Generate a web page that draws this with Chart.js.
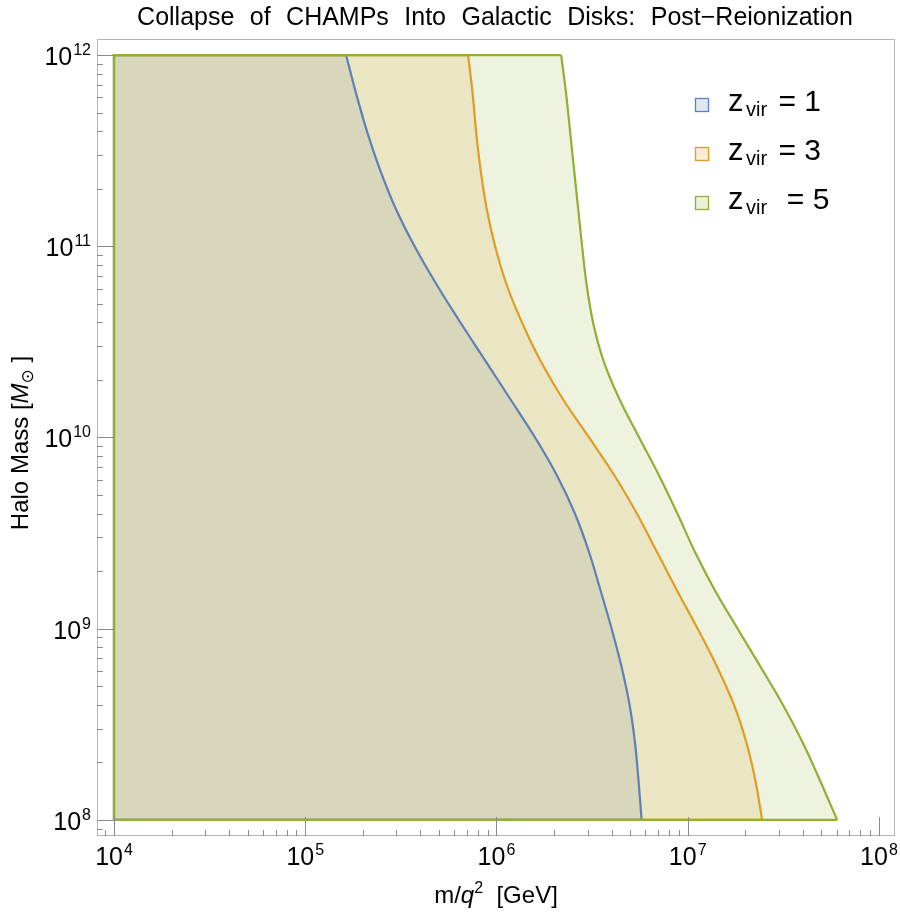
<!DOCTYPE html>
<html>
<head>
<meta charset="utf-8">
<script src="https://cdn.jsdelivr.net/npm/chart.js@4/dist/chart.umd.min.js"></script>
<style>
  html, body { margin: 0; padding: 0; background: #fff; }
  #wrap { width: 900px; height: 913px; position: relative; }
</style>
</head>
<body>
<div id="wrap"><canvas id="chart"></canvas></div>
<script>
// halo mass samples (Msun), top to bottom, shared by every boundary curve
const haloMass = [1e12, 6.31e11, 3.98e11, 2.51e11, 1.58e11, 1e11, 6.31e10, 3.98e10, 2.51e10, 1.58e10,
  1e10, 6.31e9, 3.98e9, 2.51e9, 1.58e9, 1e9, 6.31e8, 3.98e8, 2.51e8, 1.58e8, 1e8];

// m/q^2 (GeV) of the collapse boundary at each halo mass
const mqZ1 = [1.634e5, 1.844e5, 2.105e5, 2.462e5, 2.967e5, 3.730e5, 4.861e5, 6.490e5, 8.770e5, 1.185e6,
  1.592e6, 2.075e6, 2.577e6, 3.050e6, 3.504e6, 4.000e6, 4.511e6, 4.968e6, 5.307e6, 5.537e6, 5.740e6];
const mqZ3 = [7.105e5, 7.499e5, 7.822e5, 8.257e5, 8.875e5, 9.833e5, 1.129e6, 1.361e6, 1.701e6, 2.230e6,
  3.050e6, 4.147e6, 5.438e6, 6.918e6, 8.803e6, 1.127e7, 1.425e7, 1.748e7, 2.033e7, 2.266e7, 2.450e7];
const mqZ5 = [2.178e6, 2.312e6, 2.426e6, 2.546e6, 2.672e6, 2.804e6, 2.959e6, 3.201e6, 3.632e6, 4.404e6,
  5.570e6, 7.087e6, 8.854e6, 1.093e7, 1.391e7, 1.824e7, 2.406e7, 3.155e7, 4.015e7, 4.955e7, 6.044e7];
const mqMin = 1e4; // left edge of the shaded regions

const zvirValues = ["1", "3", "5"];
const xTickExps = [4, 5, 6, 7, 8];
const yTickExps = [8, 9, 10, 11, 12];

const COLORS = {
  z1: "#5e81b5",
  z3: "#e19c24",
  z5: "#8fb032",
  frame: "#b4b4b4",
  tick: "#8a8a8a",
  text: "#000",
};
const FONT = "'Liberation Sans', Arial, sans-serif";

function hexA(hex, a) {
  const n = parseInt(hex.slice(1), 16);
  return `rgba(${n >> 16},${(n >> 8) & 255},${n & 255},${a})`;
}

const curvePts = curve => curve.map((x, i) => ({ x, y: haloMass[i] }));
// bottom edge, left edge, top edge of a region
function edges(curve) {
  const last = haloMass.length - 1;
  return [
    { x: curve[last], y: haloMass[last] },
    { x: mqMin, y: haloMass[last] },
    { x: mqMin, y: haloMass[0] },
    { x: curve[0], y: haloMass[0] },
  ];
}

function pow10(ctx, exp, x, y, align) {
  ctx.font = `25px ${FONT}`;
  const w1 = ctx.measureText("10").width;
  ctx.font = `16px ${FONT}`;
  const w2 = ctx.measureText(String(exp)).width;
  const total = w1 + 1 + w2;
  const x0 = align === "center" ? x - total / 2 : x - total;
  ctx.textAlign = "left";
  ctx.font = `25px ${FONT}`;
  ctx.fillText("10", x0, y);
  ctx.font = `16px ${FONT}`;
  ctx.fillText(String(exp), x0 + w1 + 1, y - 10);
}

const decor = {
  id: "decor",
  beforeDraw(chart) {
    const ctx = chart.ctx;
    ctx.save();
    ctx.fillStyle = "#fff";
    ctx.fillRect(0, 0, chart.width, chart.height);
    ctx.restore();
  },
  afterDatasetsDraw(chart) {
    const { ctx, chartArea: a, scales } = chart;
    const xs = scales.x, ys = scales.y;
    ctx.save();
    ctx.strokeStyle = COLORS.frame;
    ctx.lineWidth = 1;
    ctx.strokeRect(a.left + 0.5, a.top + 0.5, a.right - a.left - 1, a.bottom - a.top - 1);

    // ticks point inward
    ctx.strokeStyle = COLORS.tick;
    ctx.beginPath();
    [3].concat(xTickExps).forEach(e => {
      for (let m = 1; m <= 9; m++) {
        const v = m * Math.pow(10, e);
        if (v < xs.min || v > xs.max) continue;
        const px = Math.round(xs.getPixelForValue(v)) + 0.5;
        ctx.moveTo(px, a.bottom);
        ctx.lineTo(px, a.bottom - (m === 1 ? 19 : 6));
      }
    });
    [7].concat(yTickExps).forEach(e => {
      for (let m = 1; m <= 9; m++) {
        const v = m * Math.pow(10, e);
        if (v < ys.min || v > ys.max) continue;
        const py = Math.round(ys.getPixelForValue(v)) + 0.5;
        ctx.moveTo(a.left, py);
        ctx.lineTo(a.left + (m === 1 ? 17 : 6), py);
      }
    });
    ctx.stroke();
    ctx.restore();
  },
  afterDraw(chart) {
    const { ctx, chartArea: a, scales } = chart;
    const xs = scales.x, ys = scales.y;
    ctx.save();
    ctx.fillStyle = COLORS.text;
    ctx.textBaseline = "alphabetic";

    xTickExps.forEach(e => pow10(ctx, e, xs.getPixelForValue(Math.pow(10, e)), 865, "center"));
    yTickExps.forEach(e => pow10(ctx, e, 91, ys.getPixelForValue(Math.pow(10, e)) + 10, "right"));

    // title
    ctx.font = `25px ${FONT}`;
    ctx.textAlign = "center";
    if ("wordSpacing" in ctx) ctx.wordSpacing = "8.5px";
    ctx.fillText("Collapse of CHAMPs Into Galactic Disks: Post\u2212Reionization", 495, 25);
    if ("wordSpacing" in ctx) ctx.wordSpacing = "0px";

    // x label
    ctx.textAlign = "left";
    const parts = [
      { t: "m/", f: `24px ${FONT}`, dy: 0 },
      { t: "q", f: `italic 24px ${FONT}`, dy: 0 },
      { t: "2", f: `16px ${FONT}`, dy: -10 },
      { t: "  [GeV]", f: `24px ${FONT}`, dy: 0 },
    ];
    let w = 0;
    parts.forEach(p => { ctx.font = p.f; w += ctx.measureText(p.t).width; });
    let cx = (a.left + a.right) / 2 - w / 2;
    parts.forEach(p => { ctx.font = p.f; ctx.fillText(p.t, cx, 903 + p.dy); cx += ctx.measureText(p.t).width; });

    // y label
    ctx.save();
    ctx.translate(28, 443);
    ctx.rotate(-Math.PI / 2);
    const yparts = [
      { t: "Halo Mass [", f: `24px ${FONT}`, dy: 0 },
      { t: "M", f: `italic 24px ${FONT}`, dy: 0 },
      { t: "\u2299", f: `17px 'DejaVu Sans', ${FONT}`, dy: 5 },
      { t: " ]", f: `24px ${FONT}`, dy: 0 },
    ];
    w = 0;
    yparts.forEach(p => { ctx.font = p.f; w += ctx.measureText(p.t).width; });
    cx = -w / 2;
    yparts.forEach(p => { ctx.font = p.f; ctx.fillText(p.t, cx, p.dy); cx += ctx.measureText(p.t).width; });
    ctx.restore();

    // legend
    const legendColors = [COLORS.z1, COLORS.z3, COLORS.z5];
    zvirValues.forEach((val, i) => {
      const cy = 105 + i * 49;
      ctx.fillStyle = hexA(legendColors[i], 0.18);
      ctx.fillRect(695.5, cy - 6.5, 13, 13);
      ctx.strokeStyle = legendColors[i];
      ctx.lineWidth = 1.3;
      ctx.strokeRect(695.5, cy - 6.5, 13, 13);
      ctx.fillStyle = COLORS.text;
      const base = cy + 6;
      ctx.font = `31px ${FONT}`;
      ctx.fillText("z", 728, base);
      ctx.font = `20px ${FONT}`;
      ctx.fillText("vir", 746, base + 5);
      const vw = ctx.measureText("vir").width;
      ctx.font = `30px ${FONT}`;
      ctx.fillText((i === 2 ? "  = " : " = ") + val, 746 + vw + 3, base);
    });
    ctx.restore();
  },
};

const series = [
  { curve: mqZ1, color: COLORS.z1 },
  { curve: mqZ3, color: COLORS.z3 },
  { curve: mqZ5, color: COLORS.z5 },
];
const datasets = [];
series.forEach((s, i) => {
  datasets.push({
    label: "z_vir = " + zvirValues[i],
    data: curvePts(s.curve),
    indexAxis: "y",
    showLine: true,
    borderColor: s.color,
    backgroundColor: hexA(s.color, 0.15),
    fill: { value: mqMin },
    tension: 0.35,
    borderWidth: 2.2,
    pointRadius: 0,
    order: 5 - i,
  });
  datasets.push({
    label: "edge " + zvirValues[i],
    data: edges(s.curve),
    showLine: true,
    borderColor: s.color,
    fill: false,
    borderWidth: 2.2,
    pointRadius: 0,
    tension: 0,
    order: 2 - i,
  });
});

new Chart(document.getElementById("chart"), {
  type: "scatter",
  data: { datasets },
  options: {
    responsive: true,
    maintainAspectRatio: false,
    animation: false,
    layout: { padding: { left: 97, right: 5, top: 39, bottom: 77 } },
    scales: {
      x: { type: "logarithmic", min: 8150, max: 1.213e8, display: false },
      y: { type: "logarithmic", min: 8.24e7, max: 1.213e12, display: false },
    },
    plugins: {
      legend: { display: false },
      tooltip: { enabled: false },
      filler: { drawTime: "beforeDatasetsDraw" },
    },
  },
  plugins: [decor],
});
</script>
</body>
</html>
